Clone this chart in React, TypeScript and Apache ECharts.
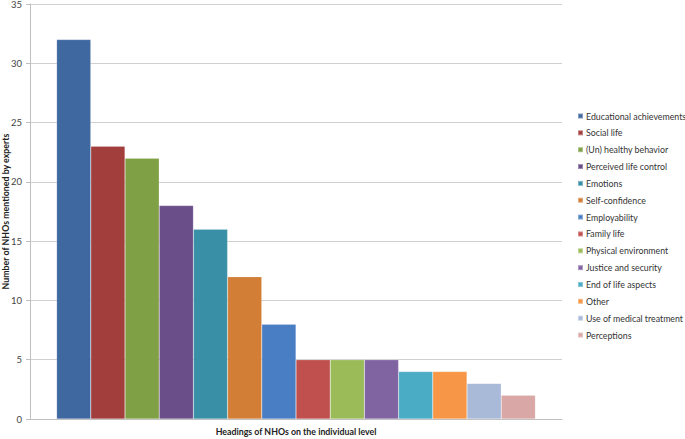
import React, { useEffect, useRef } from "react";
import * as echarts from "echarts";

const categories = ["Headings of NHOs on the individual level"];
const seriesNames = [
  "Educational achievements",
  "Social life",
  "(Un) healthy behavior",
  "Perceived life control",
  "Emotions",
  "Self-confidence",
  "Employability",
  "Family life",
  "Physical environment",
  "Justice and security",
  "End of life aspects",
  "Other",
  "Use of medical treatment",
  "Perceptions",
];
const seriesValues = [32, 23, 22, 18, 16, 12, 8, 5, 5, 5, 4, 4, 3, 2];
const colors = [
  "#3F67A0",
  "#A23F3D",
  "#80A045",
  "#6A4E8A",
  "#3990A6",
  "#D27E37",
  "#4A7EC4",
  "#C0504D",
  "#9BBB59",
  "#8064A2",
  "#4BACC6",
  "#F79646",
  "#A9B9D8",
  "#D8A7A6",
];
const yTicks = [0, 5, 10, 15, 20, 25, 30, 35];

export default function App() {
  const ref = useRef<HTMLDivElement>(null);
  useEffect(() => {
    if (!ref.current) return;
    const chart = echarts.init(ref.current, null, { renderer: "svg" });
    const font = "Lato, 'Open Sans', sans-serif";
    chart.setOption({
      animation: false,
      textStyle: { fontFamily: font },
      grid: { left: 30, right: 123, top: 4, bottom: 20, containLabel: false, outerBoundsMode: "none" },
      legend: {
        orient: "vertical",
        left: 577,
        top: 110,
        padding: 0,
        itemWidth: 5,
        itemHeight: 5,
        itemGap: 4.85,
        icon: "rect",
        textStyle: { fontSize: 8.8, color: "#333", fontFamily: font, lineHeight: 12, padding: [0, 0, 0, -2] },
        data: seriesNames,
      },
      xAxis: {
        type: "category",
        data: categories,
        axisLine: { lineStyle: { color: "#BFBFBF" } },
        axisTick: { show: false },
        axisLabel: { show: false },
        name: categories[0],
        nameLocation: "middle",
        nameGap: 8,
        nameMoveOverlap: false,
        nameTextStyle: { fontSize: 8.8, fontWeight: "bold", color: "#222", fontFamily: font },
      },
      yAxis: {
        type: "value",
        min: 0,
        max: 35,
        interval: 5,
        axisLine: { show: true, lineStyle: { color: "#BFBFBF" } },
        axisTick: { show: true, length: 4, inside: false, lineStyle: { color: "#BFBFBF" } },
        splitLine: { lineStyle: { color: "#D0D0D0" } },
        axisLabel: { fontSize: 9.5, color: "#444", margin: 8, formatter: (v: number) => (yTicks.includes(v) ? String(v) : "") },
        name: "Number of NHOs mentioned by experts",
        nameLocation: "middle",
        nameGap: 20,
        nameRotate: 90,
        nameMoveOverlap: false,
        nameTextStyle: { fontSize: 8.8, fontWeight: "bold", color: "#222", fontFamily: font },
      },
      series: seriesNames.map((name, i) => ({
        name,
        type: "bar",
        data: [seriesValues[i]],
        barGap: "0%",
        barCategoryGap: "10%",
        itemStyle: { color: colors[i], borderColor: "rgba(255,255,255,0.35)", borderWidth: 0.5 },
      })),
      color: colors,
    });
    return () => chart.dispose();
  }, []);
  return <div ref={ref} style={{ width: 685, height: 439, position: "absolute", left: 0, top: 0 }} />;
}
